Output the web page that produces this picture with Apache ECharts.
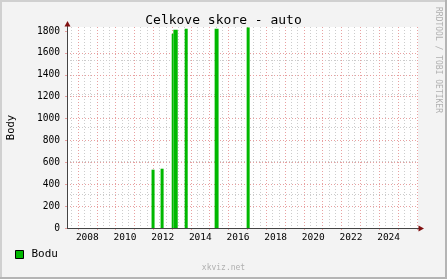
<!DOCTYPE html>
<html><head><meta charset="utf-8">
<style>html,body{margin:0;padding:0;background:#f3f3f3}#c{width:447px;height:279px}</style>
<script src="https://cdn.jsdelivr.net/npm/echarts@6/dist/echarts.min.js"></script>
</head><body><div id="c"></div>
<script>
// ---- data ----
const chartTitle = 'Celkove skore - auto';
const yAxisName = 'Body';
const seriesName = 'Bodu';
const watermark = 'RRDTOOL / TOBI OETIKER';
const footer = 'xkviz.net';
// bars (time spans in fractional years, value in points)
const barStart = [2011.91, 2012.39, 2012.98, 2013.07, 2013.67, 2015.26, 2016.96];
const barEnd   = [2012.07, 2012.55, 2013.07, 2013.30, 2013.83, 2015.47, 2017.12];
const barValue = [533, 542, 1775, 1812, 1821, 1821, 1833];
// axis ticks
const xLabelYears = [2008, 2010, 2012, 2014, 2016, 2018, 2020, 2022, 2024];
const xMajorYears = [2008, 2009, 2010, 2011, 2012, 2013, 2014, 2015, 2016, 2017, 2018, 2019, 2020, 2021, 2022, 2023, 2024, 2025, 2026];
const yMajorTicks = [0, 200, 400, 600, 800, 1000, 1200, 1400, 1600, 1800];
const xMin = 2007.42, xMax = 2026.06;
const yMin = 0, yMax = 1837;

// ---- derived ----
const barData = barStart.map((s, i) => [s, barEnd[i], barValue[i]]);
const xMinor = [];
for (let y = 2007; y <= 2026; y++) for (let k = 0; k < 3; k++) {
  const v = +(y + k / 3).toFixed(4);
  if (v > xMin && v < xMax) xMinor.push(v);
}
const xLabelPos = xLabelYears.map(y => y + 0.5);

const G = {left: 67, top: 27, right: 29, bottom: 51};
const W = 447, H = 279;
const gx0 = G.left, gy0 = G.top, gx1 = W - G.right, gy1 = H - G.bottom;

const MONO = '"DejaVu Sans Mono", monospace';
const RED = '#e8a0a0', GRAY = '#cccccc', GREEN = '#00b800', AXIS = '#444', ARROW = '#801010';

const chart = echarts.init(document.getElementById('c'), null, {renderer: 'canvas'});
chart.setOption({
  animation: false,
  backgroundColor: '#f3f3f3',
  title: {
    text: chartTitle, left: 'center', top: 9,
    textStyle: {fontFamily: MONO, fontSize: 13, fontWeight: 'normal', color: '#000'}
  },
  legend: {
    data: [seriesName], left: 15, top: 249, padding: 0,
    itemWidth: 8, itemHeight: 8, icon: 'rect',
    itemStyle: {color: GREEN, borderColor: '#000', borderWidth: 1},
    textStyle: {fontFamily: MONO, fontSize: 11, color: '#000', padding: [0, 0, 0, 3]}
  },
  grid: {left: G.left, top: G.top, right: G.right, bottom: G.bottom, containLabel: false,
    outerBoundsMode: 'none', backgroundColor: '#fff', show: true, borderWidth: 0},
  xAxis: [
    {
      type: 'value', min: xMin, max: xMax, position: 'bottom', z: 1,
      axisLine: {show: true, onZero: false, lineStyle: {color: AXIS, width: 1}},
      axisTick: {show: true, length: 2, customValues: xMajorYears, lineStyle: {color: RED}},
      axisLabel: {customValues: xLabelPos, margin: 5, fontFamily: MONO, fontSize: 9.5, color: '#000',
        formatter: v => String(Math.floor(v))},
      splitLine: {show: true, lineStyle: {color: RED, type: [1, 2], width: 1}}
    },
    {
      type: 'value', min: xMin, max: xMax, position: 'bottom', z: 0,
      axisLine: {show: false}, axisLabel: {show: false},
      axisTick: {show: false, customValues: xMinor},
      splitLine: {show: true, lineStyle: {color: GRAY, type: [1, 2], width: 1}}
    }
  ],
  yAxis: [
    {
      type: 'value', min: yMin, max: yMax, z: 1, position: 'left',
      name: yAxisName, nameLocation: 'middle', nameGap: 50, nameRotate: 90,
      nameTextStyle: {fontFamily: MONO, fontSize: 10.5, color: '#000'},
      axisLine: {show: true, onZero: false, lineStyle: {color: AXIS, width: 1}},
      axisTick: {show: true, length: 2, customValues: yMajorTicks, lineStyle: {color: RED}},
      axisLabel: {customValues: yMajorTicks, margin: 7, fontFamily: MONO, fontSize: 9.6, color: '#000',
        formatter: v => String(v)},
      splitLine: {show: true, showMinLine: false, showMaxLine: false, lineStyle: {color: RED, type: [1, 2], width: 1}}
    },
    {
      type: 'value', min: yMin, max: 1800, z: 0, position: 'left',
      axisLine: {show: false}, axisLabel: {show: false}, axisTick: {show: false},
      splitLine: {show: true, showMinLine: false, showMaxLine: false, lineStyle: {color: GRAY, type: [1, 2], width: 1}}
    }
  ],
  series: [{
    name: seriesName, type: 'custom', xAxisIndex: 0, yAxisIndex: 0, z: 3,
    itemStyle: {color: GREEN},
    encode: {x: [0, 1], y: 2},
    data: barData,
    renderItem: (params, api) => {
      const p0 = api.coord([api.value(0), api.value(2)]);
      const p1 = api.coord([api.value(1), 0]);
      return {type: 'rect', shape: {x: p0[0], y: p0[1], width: p1[0] - p0[0], height: p1[1] - p0[1]},
        style: {fill: GREEN}};
    }
  }],
  graphic: [
    // frame shading
    {type: 'line', shape: {x1: 0, y1: 1, x2: W, y2: 1}, style: {stroke: '#d0d0d0', lineWidth: 2}, silent: true},
    {type: 'line', shape: {x1: 1, y1: 0, x2: 1, y2: H}, style: {stroke: '#d0d0d0', lineWidth: 2}, silent: true},
    {type: 'line', shape: {x1: 0, y1: H - 1, x2: W, y2: H - 1}, style: {stroke: '#b4b4b4', lineWidth: 2}, silent: true},
    {type: 'line', shape: {x1: W - 1, y1: 0, x2: W - 1, y2: H}, style: {stroke: '#b4b4b4', lineWidth: 2}, silent: true},
    // axis lines (extended) + arrows
    {type: 'line', shape: {x1: gx0 + 0.5, y1: gy1, x2: gx0 + 0.5, y2: gy0 - 4}, style: {stroke: AXIS, lineWidth: 1}, z: 10},
    {type: 'line', shape: {x1: gx0, y1: gy1 + 0.5, x2: gx1 + 4, y2: gy1 + 0.5}, style: {stroke: AXIS, lineWidth: 1}, z: 10},
    {type: 'polygon', shape: {points: [[gx0 + 0.5, gy0 - 6], [gx0 - 2.5, gy0 - 0.5], [gx0 + 3.5, gy0 - 0.5]]}, style: {fill: ARROW}, z: 10},
    {type: 'polygon', shape: {points: [[gx1 + 6, gy1 + 0.5], [gx1 + 0.5, gy1 - 2.5], [gx1 + 0.5, gy1 + 3.5]]}, style: {fill: ARROW}, z: 10},
    // watermark & footer
    {type: 'text', x: 438, y: 60, rotation: -Math.PI / 2,
      style: {text: watermark, font: '8px ' + MONO, fill: '#b0b0b0', align: 'center', verticalAlign: 'middle'}},
    {type: 'text', x: W / 2, y: 268,
      style: {text: footer, font: '8px ' + MONO, fill: '#b0b0b0', align: 'center', verticalAlign: 'middle'}}
  ]
});
</script>
</body></html>
